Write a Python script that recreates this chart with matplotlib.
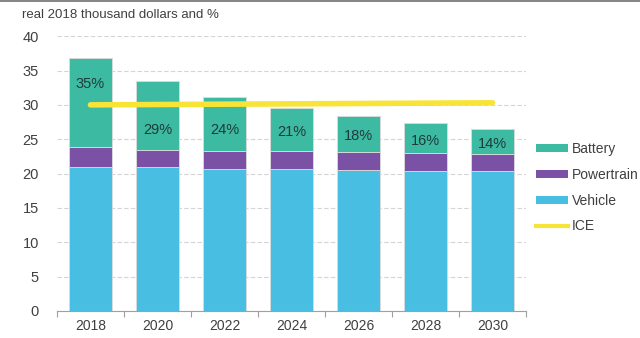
"""
plot.py
stacked cost bars (vehicle / powertrain / battery) with ICE reference line
"""

import matplotlib
matplotlib.use('Agg')
import matplotlib.pyplot as plt
from matplotlib.lines import Line2D
from matplotlib.patches import Patch

## data
YEARS         = ['2018', '2020', '2022', '2024', '2026', '2028', '2030']
VEHICLE       = [20.95, 20.95, 20.65, 20.6, 20.5, 20.4, 20.4]
POWERTRAIN    = [2.95, 2.55, 2.65, 2.7, 2.7, 2.6, 2.4]
BATTERY       = [12.9, 9.95, 7.8, 6.2, 5.2, 4.35, 3.7]
BATTERY_SHARE = ['35%', '29%', '24%', '21%', '18%', '16%', '14%']
ICE           = [30.0, 30.05, 30.1, 30.15, 30.2, 30.25, 30.3]

C_BATTERY    = '#3dbba2'
C_POWERTRAIN = '#7a51a5'
C_VEHICLE    = '#48bee3'
C_ICE        = '#f8e436'
C_TEXT       = '#404040'

plt.rcParams['font.family'] = ['Liberation Sans', 'DejaVu Sans']


def plot_chart():
    '''
    draw the chart and save out.png
    '''
    fig = plt.figure(figsize=(6.4, 3.38), dpi=100)
    ax = fig.add_axes([0.089, 0.080, 0.733, 0.813])

    x_list = range(len(YEARS))
    width = 0.63
    edge = dict(edgecolor='#dcdcdc', linewidth=0.6)

    pt_bottom = VEHICLE
    bat_bottom = [v + p for v, p in zip(VEHICLE, POWERTRAIN)]

    ax.bar(x_list, VEHICLE, width, color=C_VEHICLE, zorder=2, **edge)
    ax.bar(x_list, POWERTRAIN, width, bottom=pt_bottom, color=C_POWERTRAIN, zorder=2, **edge)
    ax.bar(x_list, BATTERY, width, bottom=bat_bottom, color=C_BATTERY, zorder=2, **edge)

    ax.plot(x_list, ICE, color=C_ICE, linewidth=4, solid_capstyle='round', zorder=3)

    ## share labels: put them in the bigger part of the battery segment (above / below ICE line)
    for i, share in enumerate(BATTERY_SHARE):
        lo = bat_bottom[i]
        hi = lo + BATTERY[i]
        ice = ICE[i]
        if hi > ice and (hi - ice) > (ice - lo):
            y = (ice + hi) / 2 - 0.4
        else:
            y = (lo + min(hi, ice)) / 2 - 0.4
        ax.text(i, y, share, ha='center', va='center', fontsize=10.5, color='#1f3a3a', zorder=4)

    ax.set_xlim(-0.5, len(YEARS) - 0.5)
    ax.set_ylim(0, 40)
    ax.set_yticks(range(0, 41, 5))
    ax.set_xticks(x_list)
    ax.set_xticklabels(YEARS)
    ax.set_xticks([i - 0.5 for i in range(len(YEARS) + 1)], minor=True)

    ax.tick_params(axis='y', length=0, pad=13, labelsize=10.5, labelcolor=C_TEXT)
    ax.tick_params(axis='x', which='major', length=0, pad=6, labelsize=10, labelcolor=C_TEXT)
    ax.tick_params(axis='x', which='minor', length=4, color='#a0a0a0', width=0.8)

    ax.grid(axis='y', linestyle=(0, (4, 2)), color='#d4d4d4', linewidth=0.8, zorder=0)
    ax.set_axisbelow(True)
    for side in ['top', 'right', 'left']:
        ax.spines[side].set_visible(False)
    ax.spines['bottom'].set_color('#a0a0a0')
    ax.spines['bottom'].set_linewidth(0.8)

    handles = [
        Patch(facecolor=C_BATTERY, edgecolor='none'),
        Patch(facecolor=C_POWERTRAIN, edgecolor='none'),
        Patch(facecolor=C_VEHICLE, edgecolor='none'),
        Line2D([0], [0], color=C_ICE, linewidth=3),
    ]
    fig.legend(handles, ['Battery', 'Powertrain', 'Vehicle', 'ICE'],
               loc='upper left', bbox_to_anchor=(0.8375, 0.58), frameon=False,
               borderpad=0, borderaxespad=0,
               fontsize=10, labelcolor=C_TEXT,
               handlelength=2.3, handleheight=0.5,
               handletextpad=0.3, labelspacing=0.85)

    fig.text(0.034, 0.955, 'real 2018 thousand dollars and %', fontsize=9.5,
             color=C_TEXT, va='center', ha='left')

    ## thin frame line on top of the picture
    fig.add_artist(Line2D([0, 1], [0.996, 0.996], color='#707070', linewidth=1.2))

    fig.savefig('out.png', dpi=100)
    return None


if __name__ == '__main__':
    plot_chart()
